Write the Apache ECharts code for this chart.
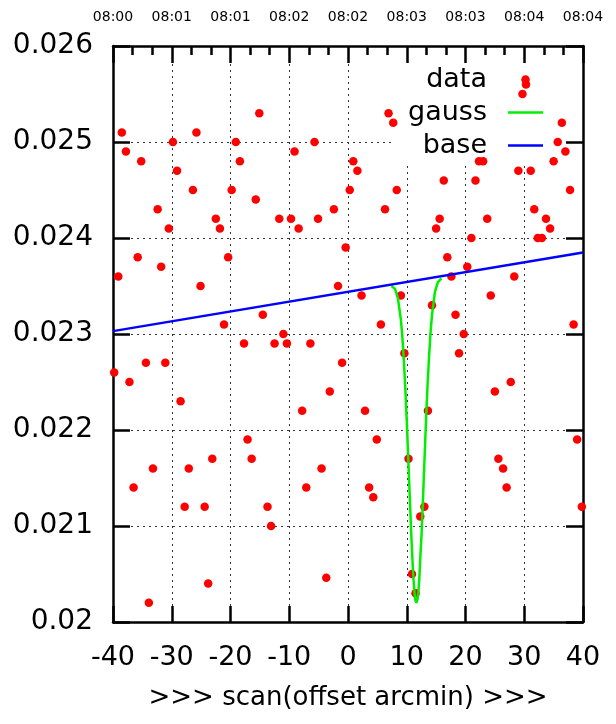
<!DOCTYPE html>
<html>
<head>
<meta charset="utf-8">
<script src="https://cdn.jsdelivr.net/npm/echarts@6/dist/echarts.min.js"></script>
<style>html,body{margin:0;padding:0;background:#fff}#c{width:616px;height:724px}</style>
</head>
<body>
<div id="c"></div>
<script>
const xValues = [-39.8, -39.1, -38.5, -37.8, -37.2, -36.5, -35.8, -35.2, -34.4, -33.9,
  -33.2, -32.4, -31.8, -31.1, -30.5, -29.8, -29.1, -28.5, -27.8, -27.1,
  -26.4, -25.8, -25.1, -24.4, -23.8, -23.1, -22.5, -21.8, -21.1, -20.4,
  -19.8, -19.1, -18.4, -17.7, -17.1, -16.4, -15.7, -15.1, -14.5, -13.7,
  -13.1, -12.5, -11.7, -11.0, -10.4, -9.7, -9.1, -8.4, -7.8, -7.1,
  -6.4, -5.7, -5.1, -4.5, -3.7, -3.1, -2.4, -1.7, -1.0, -0.4,
  0.3, 0.9, 1.6, 2.3, 2.9, 3.6, 4.3, 4.9, 5.6, 6.3,
  6.9, 7.7, 8.3, 9.0, 9.6, 10.3, 10.9, 11.5, 12.3, 13.0,
  13.6, 14.3, 15.0, 15.6, 16.3, 16.9, 17.6, 18.3, 18.9, 19.7,
  20.3, 21.0, 21.7, 22.3, 23.0, 23.7, 24.3, 25.0, 25.6, 26.4,
  27.0, 27.7, 28.3, 29.0, 29.7, 30.3, 31.1, 31.7, 32.3, 33.0,
  33.7, 34.4, 35.0, 35.7, 36.4, 37.0, 37.8, 38.4, 39.0, 39.8];
const yValues = [0.0226, 0.0236, 0.0251, 0.0249, 0.0225, 0.0214, 0.0238, 0.0248, 0.0227, 0.0202,
  0.0216, 0.0243, 0.0237, 0.0227, 0.0241, 0.0250, 0.0247, 0.0223, 0.0212, 0.0216,
  0.0245, 0.0251, 0.0235, 0.0212, 0.0204, 0.0217, 0.0242, 0.0241, 0.0231, 0.0238,
  0.0245, 0.0250, 0.0248, 0.0229, 0.0219, 0.0217, 0.0244, 0.0253, 0.0232, 0.0212,
  0.0210, 0.0229, 0.0242, 0.0230, 0.0229, 0.0242, 0.0249, 0.0241, 0.0222, 0.0214,
  0.0229, 0.0250, 0.0242, 0.0216, 0.02046, 0.0224, 0.0243, 0.0235, 0.0227, 0.0239,
  0.0245, 0.0248, 0.0247, 0.0234, 0.0222, 0.0214, 0.0213, 0.0219, 0.0231, 0.0243,
  0.0253, 0.0252, 0.0245, 0.0234, 0.0228, 0.0217, 0.0205, 0.0203, 0.0211, 0.0212,
  0.0222, 0.0233, 0.0241, 0.0242, 0.0246, 0.0238, 0.0236, 0.0232, 0.0228, 0.0230,
  0.0237, 0.0240, 0.0246, 0.0248, 0.0248, 0.0242, 0.0234, 0.0224, 0.0217, 0.0216,
  0.0214, 0.0225, 0.0236, 0.0247, 0.0255, 0.0256, 0.0247, 0.0243, 0.0240, 0.0240,
  0.0242, 0.0241, 0.0248, 0.0250, 0.0252, 0.0249, 0.0245, 0.0231, 0.0219, 0.0212];
const gaussX = [7.4, 8.0, 8.5, 9.0, 9.25, 9.5, 9.75, 10.0, 10.25, 10.5, 10.75, 11.0, 11.15, 11.3, 11.45,
  11.65, 11.85, 12.0, 12.15, 12.3, 12.55, 12.8, 13.05, 13.3, 13.55, 13.8, 14.05, 14.3, 14.8, 15.3, 15.9];
const gaussY = [0.02350, 0.02347, 0.02337, 0.02315, 0.02297, 0.02273, 0.02244, 0.02210, 0.02171, 0.02132,
  0.02094, 0.02061, 0.02044, 0.02032, 0.02023, 0.02020, 0.02024, 0.02033, 0.02046, 0.02066,
  0.02095, 0.02134, 0.02174, 0.02213, 0.02248, 0.02277, 0.02302, 0.02320, 0.02344, 0.02354, 0.02358];
const baseX = [-40, 40];
const baseY = [0.02303, 0.02385];
const xTickLabels = ['-40', '-30', '-20', '-10', '0', '10', '20', '30', '40'];
const yTickLabels = ['0.02', '0.021', '0.022', '0.023', '0.024', '0.025', '0.026'];
const timeLabels = ['08:00', '08:01', '08:01', '08:02', '08:02', '08:03', '08:03', '08:04', '08:04'];

const FONT = 'DejaVu Sans';
const zip = (a, b) => a.map((v, i) => [v, b[i]]);
const axisLine = { show: true, onZero: false, lineStyle: { color: '#000', width: 2.5 } };
const grid = { show: true, lineStyle: { color: '#333', width: 1, type: [2, 4] } };
const lineIcon = 'path://M0,0H35V2.5H0Z';

const chart = echarts.init(document.getElementById('c'), null, { renderer: 'canvas' });
chart.setOption({
  animation: false,
  backgroundColor: '#fff',
  grid: { left: 113, right: 33, top: 46, bottom: 102, containLabel: false },
  legend: {
    orient: 'vertical', right: 73, top: 66, align: 'right', padding: 0,
    itemWidth: 35, itemHeight: 8.5, itemGap: 6, selectedMode: false,
    textStyle: { fontFamily: FONT, fontSize: 27, color: '#000', lineHeight: 26, padding: [0, 16, 0, 0] },
    data: [{ name: 'data', icon: 'circle' }, { name: 'gauss', icon: lineIcon }, { name: 'base', icon: lineIcon }]
  },
  xAxis: [
    {
      type: 'value', position: 'bottom', min: -40, max: 40, interval: 10,
      axisLine: axisLine,
      axisTick: { show: true, inside: true, length: 16, lineStyle: { color: '#000', width: 2.5 } },
      axisLabel: { fontFamily: FONT, fontSize: 27, color: '#000', margin: 22,
        formatter: v => xTickLabels[Math.round((v + 40) / 10)] },
      splitLine: grid,
      name: '>>> scan(offset arcmin) >>>', nameLocation: 'middle', nameGap: 63,
      nameTextStyle: { fontFamily: FONT, fontSize: 26, color: '#000' }
    },
    {
      type: 'value', position: 'top', min: -40, max: 40, interval: 10,
      axisLine: axisLine,
      axisTick: { show: true, inside: true, length: 17, lineStyle: { color: '#000', width: 2.5 } },
      minorTick: { show: true, splitNumber: 3, length: 9, lineStyle: { color: '#000', width: 2.5 } },
      axisLabel: { fontFamily: FONT, fontSize: 14, color: '#000', margin: 22,
        formatter: v => timeLabels[Math.round((v + 40) / 10)] },
      splitLine: { show: false }
    }
  ],
  yAxis: [
    {
      type: 'value', position: 'left', min: 0.02, max: 0.026, interval: 0.001,
      axisLine: axisLine,
      axisTick: { show: true, inside: true, length: 17, lineStyle: { color: '#000', width: 2.5 } },
      axisLabel: { fontFamily: FONT, fontSize: 28, color: '#000', margin: 20,
        formatter: v => yTickLabels[Math.round((v - 0.02) / 0.001)] },
      splitLine: grid
    },
    {
      type: 'value', position: 'right', min: 0.02, max: 0.026, interval: 0.001,
      axisLine: axisLine,
      axisTick: { show: true, inside: true, length: 17, lineStyle: { color: '#000', width: 2.5 } },
      axisLabel: { show: false },
      splitLine: { show: false }
    }
  ],
  graphic: [
    { type: 'rect', z: 1, silent: true, shape: { x: 393, y: 64, width: 172, height: 99 }, style: { fill: '#fff' } }
  ],
  series: [
    {
      name: 'data', type: 'scatter', xAxisIndex: 0, yAxisIndex: 0,
      symbol: 'circle', symbolSize: 8.5, itemStyle: { color: '#ff0000', opacity: 1 },
      data: zip(xValues, yValues), z: 3
    },
    {
      name: 'gauss', type: 'line', xAxisIndex: 0, yAxisIndex: 0,
      symbol: 'none', showSymbol: false, lineStyle: { color: '#00ee00', width: 2.5 },
      itemStyle: { color: '#00ee00' },
      data: zip(gaussX, gaussY), z: 4
    },
    {
      name: 'base', type: 'line', xAxisIndex: 0, yAxisIndex: 0,
      symbol: 'none', showSymbol: false, lineStyle: { color: '#0000ff', width: 2.5 },
      itemStyle: { color: '#0000ff' },
      data: zip(baseX, baseY), z: 4
    }
  ]
});
</script>
</body>
</html>
